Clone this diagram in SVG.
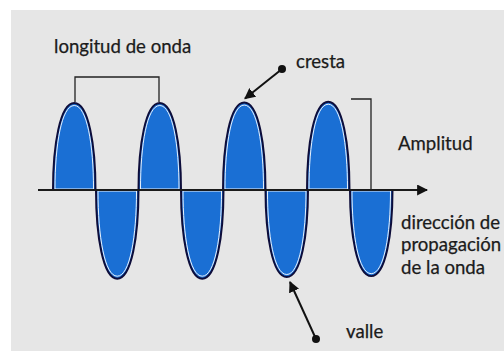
<svg xmlns="http://www.w3.org/2000/svg" width="504" height="351" viewBox="0 0 504 351">
  <defs>
    <style>
      .lbl { font-family: Lato, "Liberation Sans", Arial, sans-serif; font-size: 18.6px; fill: #1b1b1b; stroke: #1b1b1b; stroke-width: 0.25; }
      .lobe { fill: #1a6fd4; stroke: #0d0d3a; stroke-width: 2; }
      .inner { fill: none; stroke: #ffffff; stroke-width: 0.9; }
      .br { fill: none; stroke: #222222; stroke-width: 1.3; }
      .ax { stroke: #1a1a1a; stroke-width: 2; fill: none; }
      .ptr { stroke: #111111; stroke-width: 2; fill: none; }
    </style>
    <path id="up" d="M0,0 C0,-45 7,-87 21.25,-87 C35.5,-87 42.5,-45 42.5,0 Z"/>
    <path id="upIn" d="M2,-1 C2,-45 8.5,-84.5 21.25,-84.5 C34,-84.5 40.5,-45 40.5,-1 Z"/>
    <marker id="ah" viewBox="0 0 10 10" refX="9" refY="5" markerWidth="11" markerHeight="11" markerUnits="userSpaceOnUse" orient="auto">
      <path d="M0,0 L10,5 L0,10 Z" fill="#111111"/>
    </marker>
    <marker id="dot" viewBox="0 0 10 10" refX="5" refY="5" markerWidth="8" markerHeight="8" markerUnits="userSpaceOnUse">
      <circle cx="5" cy="5" r="5" fill="#111111"/>
    </marker>
  </defs>

  <rect x="0" y="0" width="504" height="351" fill="#ffffff"/>
  <rect x="11" y="10" width="493" height="341" fill="#e6e6e6"/>

  <g id="wave">
    <g id="crest1" transform="translate(53,190)"><use href="#up" class="lobe"/><use href="#upIn" class="inner"/></g>
    <g id="trough1" transform="translate(96,190) scale(1,-1.02)"><use href="#up" class="lobe"/><use href="#upIn" class="inner"/></g>
    <g id="crest2" transform="translate(138.5,190)"><use href="#up" class="lobe"/><use href="#upIn" class="inner"/></g>
    <g id="trough2" transform="translate(181,190) scale(1,-1.02)"><use href="#up" class="lobe"/><use href="#upIn" class="inner"/></g>
    <g id="crest3" transform="translate(223,190) scale(1,1.005)"><use href="#up" class="lobe"/><use href="#upIn" class="inner"/></g>
    <g id="trough3" transform="translate(265.5,190) scale(1,-1)"><use href="#up" class="lobe"/><use href="#upIn" class="inner"/></g>
    <g id="crest4" transform="translate(307,190) scale(1,1.015)"><use href="#up" class="lobe"/><use href="#upIn" class="inner"/></g>
    <g id="trough4" transform="translate(350,190) scale(1,-0.99)"><use href="#up" class="lobe"/><use href="#upIn" class="inner"/></g>
  </g>

  <g id="connectors">
    <line id="axis" class="ax" x1="38" y1="190" x2="427" y2="190" marker-end="url(#ah)"/>
    <polyline id="bracket-longitud" class="br" points="75,102 75,77 159,77 159,102"/>
    <polyline id="bracket-amplitud" class="br" points="351,99 371,99 371,190"/>
    <line id="ptr-cresta" class="ptr" x1="282" y1="69" x2="245" y2="98.5" marker-start="url(#dot)" marker-end="url(#ah)"/>
    <line id="ptr-valle" class="ptr" x1="316" y1="339" x2="290" y2="282" marker-start="url(#dot)" marker-end="url(#ah)"/>
  </g>

  <g id="labels">
    <text id="t-longitud" class="lbl" x="54" y="53">longitud de onda</text>
    <text id="t-cresta" class="lbl" x="296" y="68">cresta</text>
    <text id="t-amplitud" class="lbl" x="398" y="150">Amplitud</text>
    <text id="t-dir" class="lbl">
      <tspan x="401" y="229">dirección de</tspan>
      <tspan x="401" y="251">propagación</tspan>
      <tspan x="401" y="274">de la onda</tspan>
    </text>
    <text id="t-valle" class="lbl" x="346" y="338">valle</text>
  </g>
</svg>
